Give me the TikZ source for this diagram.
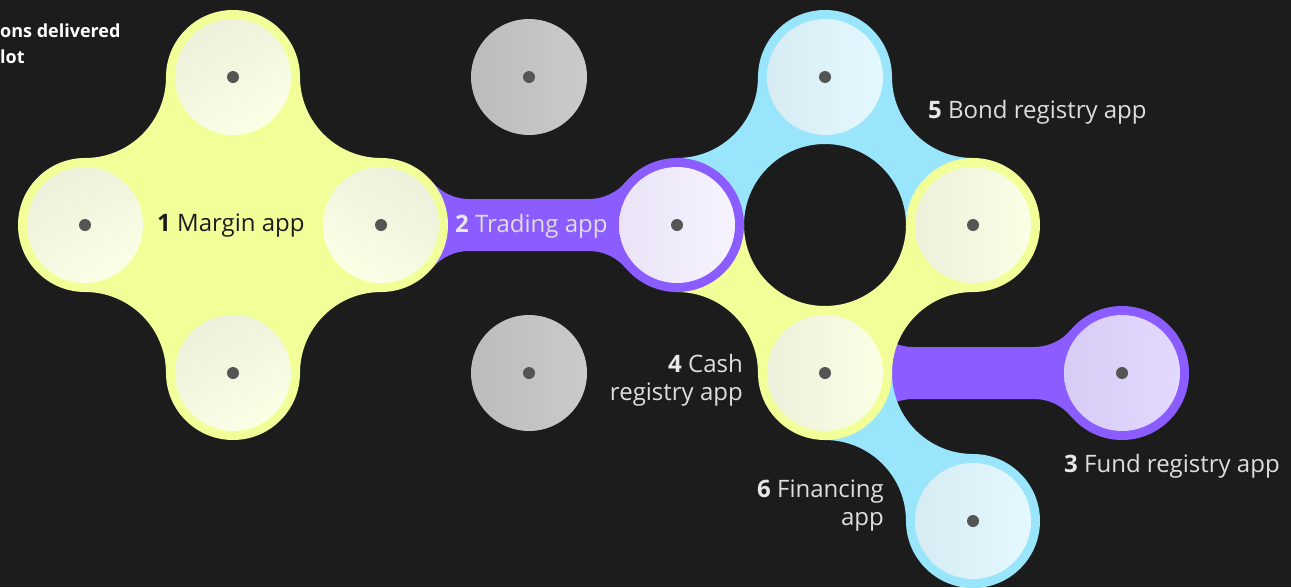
\documentclass[tikz,border=0pt]{standalone}
\usepackage{fontspec}
\setmainfont{Open Sans}
\definecolor{bgc}{HTML}{1C1C1C}
\definecolor{yel}{HTML}{F2FF99}
\definecolor{blu}{HTML}{99E6FC}
\definecolor{pur}{HTML}{8B5CFF}
\definecolor{yelA}{HTML}{EDF0DA}
\definecolor{yelB}{HTML}{FBFFE6}
\definecolor{bluA}{HTML}{D6EBF2}
\definecolor{bluB}{HTML}{E4F8FF}
\definecolor{purA}{HTML}{EAE4F6}
\definecolor{purB}{HTML}{F6F3FF}
\definecolor{fndA}{HTML}{D7CCF4}
\definecolor{fndB}{HTML}{E3D9FF}
\definecolor{gryA}{HTML}{BCBCBC}
\definecolor{gryB}{HTML}{CACACA}
\definecolor{dotc}{HTML}{555555}
\definecolor{lblc}{HTML}{DEDEDE}
\definecolor{numc}{HTML}{E8E8E8}
\definecolor{darktxt}{HTML}{1C1C1C}
\tikzset{
  ringnode/.style={circle, inner sep=0pt, minimum size=134pt, fill=#1},
  innernode/.style 2 args={circle, inner sep=0pt, minimum size=116pt, left color=#1, right color=#2},
  dotnode/.style={circle, inner sep=0pt, minimum size=12pt, fill=dotc},
  lbl/.style={inner sep=0pt, text=lblc, font=\fontsize{24}{28}\selectfont},
}
% link square: colour, x1, y1, x2, y2, disc centre A, disc centre B
\newcommand{\linksq}[7]{%
  \begin{scope}
    \clip (#2,#3) rectangle (#4,#5);
    \fill[#1, even odd rule] (#2-6,#3-6) rectangle (#4+6,#5+6) #6 circle[radius=81] #7 circle[radius=81];
  \end{scope}}
% band with fillets: colour, xL, xR, y0
\newcommand{\bandlink}[4]{%
  \fill[#1] (#2,#4) -- ([shift={(#2+88,#4-74)}]139.95:48) arc[start angle=139.95, end angle=90, radius=48]
    -- (#3-88,#4-26) arc[start angle=90, end angle=40.05, radius=48]
    -- (#3,#4) -- ([shift={(#3-88,#4+74)}]-40.05:48) arc[start angle=-40.05, end angle=-90, radius=48]
    -- (#2+88,#4+26) arc[start angle=-90, end angle=-139.95, radius=48] -- cycle;}
\begin{document}
\begin{tikzpicture}[x=1pt, y=-1pt]
\fill[bgc] (0,0) rectangle (1291,587);
\useasboundingbox (0,0) rectangle (1291,587);

% purple bands
\bandlink{pur}{381}{677}{225}
\bandlink{pur}{825}{1122}{373}

% margin group
\begin{scope}
  \clip (85,77) rectangle (381,373);
  \fill[yel, even odd rule] (79,71) rectangle (387,379)
    (85,77) circle[radius=81] (381,77) circle[radius=81]
    (85,373) circle[radius=81] (381,373) circle[radius=81];
\end{scope}

% ring links
\linksq{blu}{677}{77}{825}{225}{(677,77)}{(825,225)}
\linksq{blu}{825}{77}{973}{225}{(973,77)}{(825,225)}
\linksq{yel}{677}{225}{825}{373}{(825,225)}{(677,373)}
\linksq{yel}{825}{225}{973}{373}{(825,225)}{(973,373)}
% financing link
\linksq{blu}{825}{373}{973}{521}{(973,373)}{(825,521)}

% rings
\node[ringnode=yel] (rm1) at (233,77) {};
\node[ringnode=yel] (rm2) at (85,225) {};
\node[ringnode=yel] (rm3) at (381,225) {};
\node[ringnode=yel] (rm4) at (233,373) {};
\node[ringnode=pur] (rtr) at (677,225) {};
\node[ringnode=blu] (rbo) at (825,77) {};
\node[ringnode=yel] (rri) at (973,225) {};
\node[ringnode=yel] (rca) at (825,373) {};
\node[ringnode=blu] (rfi) at (973,521) {};
\node[ringnode=pur] (rfu) at (1122,373) {};

% inner circles
\node[innernode={yelA}{yelB}, shading angle=30] (m1) at (rm1) {};
\node[innernode={yelA}{yelB}, shading angle=30] (m2) at (rm2) {};
\node[innernode={yelA}{yelB}, shading angle=-30] (m3) at (rm3) {};
\node[innernode={yelA}{yelB}, shading angle=30] (m4) at (rm4) {};
\node[innernode={gryA}{gryB}] (g1) at (529,77) {};
\node[innernode={gryA}{gryB}] (g2) at (529,373) {};
\node[innernode={purA}{purB}] (tr) at (rtr) {};
\node[innernode={bluA}{bluB}] (bo) at (rbo) {};
\node[innernode={yelA}{yelB}] (ri) at (rri) {};
\node[innernode={yelA}{yelB}] (ca) at (rca) {};
\node[innernode={bluA}{bluB}] (fi) at (rfi) {};
\node[innernode={fndA}{fndB}] (fu) at (rfu) {};

% dots
\foreach \n in {m1,m2,m3,m4,g1,g2,tr,bo,ri,ca,fi,fu}
  \node[dotnode] (d\n) at (\n) {};

% labels
\node[lbl, text=darktxt, anchor=base west] (l1) at (157,231) {\textbf{1} Margin app};
\node[lbl, anchor=base west] (l2) at (455,232) {\textcolor{numc}{\textbf{2}} Trading app};
\node[lbl, anchor=base west] (l5) at (928,118) {\textcolor{numc}{\textbf{5}} Bond registry app};
\node[lbl, anchor=base east, align=right] (l4) at (743,400) {\textcolor{numc}{\textbf{4}} Cash\\registry app};
\node[lbl, anchor=base east, align=right] (l6) at (884,525) {\textcolor{numc}{\textbf{6}} Financing\\app};
\node[lbl, anchor=base west] (l3) at (1064,472) {\textcolor{numc}{\textbf{3}} Fund registry app};
\node[inner sep=0pt, anchor=base west, align=left, text=white, font=\bfseries\fontsize{18}{26}\selectfont] (intro) at (0,63) {ons delivered\\lot};
\end{tikzpicture}
\end{document}
